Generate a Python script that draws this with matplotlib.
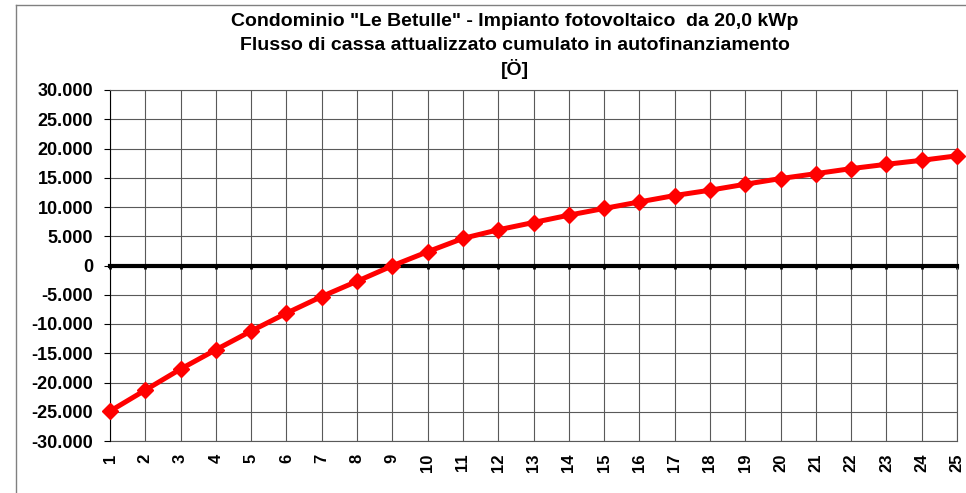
#cumulative discounted cash flow chart
import matplotlib.pyplot as plt
import matplotlib.ticker as mticker
from matplotlib.lines import Line2D

plt.rcParams['font.family'] = ['Liberation Sans', 'DejaVu Sans']

#data
years = list(range(1, 26))
cash_flow = [-24900, -21300, -17700, -14400, -11200, -8150, -5300, -2700, -50,
             2350, 4630, 6100, 7350, 8600, 9750, 10870, 11960, 12870, 13890,
             14860, 15700, 16560, 17300, 17980, 18750]
y_ticks = list(range(-30000, 30001, 5000))

title_lines = ['Condominio "Le Betulle" - Impianto fotovoltaico  da 20,0 kWp',
               'Flusso di cassa attualizzato cumulato in autofinanziamento',
               '[Ö]']

RED = (1.0, 0.0, 0.0)
GRID = (0.35, 0.35, 0.35)

fig = plt.figure(figsize=(9.66, 4.93), dpi=100)
ax = fig.add_axes([110 / 966, 1 - 441 / 493, 847 / 966, 351 / 493])

#outer chart frame (left and top edges only visible)
fig.add_artist(Line2D([16 / 966, 16 / 966], [0, 1 - 5 / 493], transform=fig.transFigure, color='grey', lw=1))
fig.add_artist(Line2D([16 / 966, 1], [1 - 5 / 493, 1 - 5 / 493], transform=fig.transFigure, color='grey', lw=1))

ax.plot(years, cash_flow, color=RED, lw=3.6, marker='D', markersize=8, zorder=5, clip_on=False)

ax.set_xlim(1, 25)
ax.set_ylim(-30000, 30000)
ax.set_yticks(y_ticks)
ax.yaxis.set_major_formatter(mticker.FuncFormatter(lambda v, p: f"{int(v):,}".replace(",", ".")))
ax.set_xticks(years)

ax.grid(True, color=GRID, lw=0.8)
ax.set_axisbelow(True)

#zero line carries the category ticks
ax.spines['bottom'].set_position(('data', 0))
ax.spines['bottom'].set_linewidth(3)
ax.spines['bottom'].set_zorder(4)
ax.spines['left'].set_color('black')
ax.spines['top'].set_color(GRID)
ax.spines['right'].set_color(GRID)
ax.spines['top'].set_linewidth(0.8)
ax.spines['right'].set_linewidth(0.8)
ax.tick_params(axis='x', direction='out', length=2.5, width=2, labelbottom=False)
ax.tick_params(axis='y', direction='out', length=4, width=0.8, pad=8, labelsize=13)
for lab in ax.get_yticklabels():
    lab.set_fontweight('bold')

#labels at the bottom of the plot
sec = ax.secondary_xaxis(0)
sec.set_xticks(years)
sec.tick_params(length=0, pad=9, labelsize=12, labelrotation=90)
sec.spines['bottom'].set_color(GRID)
sec.spines['bottom'].set_linewidth(0.8)
for lab in sec.get_xticklabels():
    lab.set_fontweight('bold')
    lab.set_va('top')

for i, line in enumerate(title_lines):
    fig.text(515 / 966, 1 - (21 + 24 * i) / 493, line, ha='center', va='center',
             fontsize=14, fontweight='bold')

fig.savefig('out.png', dpi=100)
